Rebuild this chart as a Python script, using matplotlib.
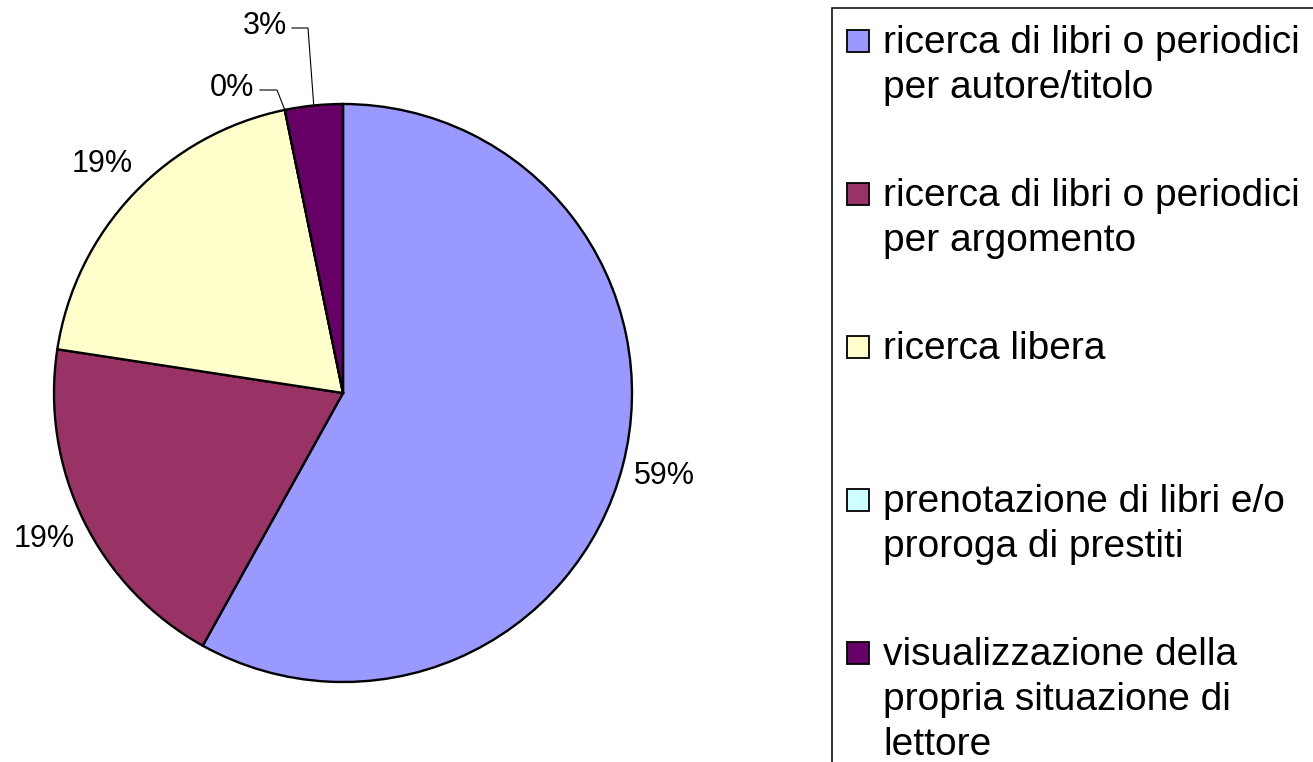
import matplotlib.pyplot as plt
import numpy as np
from matplotlib.patches import Rectangle

plt.rcParams["font.family"] = ["Liberation Sans", "DejaVu Sans"]

categories = [
    "ricerca di libri o periodici\nper autore/titolo",
    "ricerca di libri o periodici\nper argomento",
    "ricerca libera",
    "prenotazione di libri e/o\nproroga di prestiti",
    "visualizzazione della\npropria situazione di\nlettore",
]
values = [18, 6, 6, 0, 1]
pct_labels = ["59%", "19%", "19%", "0%", "3%"]
colors = ["#9999FF", "#993366", "#FFFFCC", "#CCFFFF", "#660066"]

W, H = 1313, 762
fig = plt.figure(figsize=(W / 100, H / 100), dpi=100)
ax = fig.add_axes([0, 0, 1, 1])

cx, cy, R = 343, H - 393, 289
wedges, _ = ax.pie(values, colors=colors, startangle=90, counterclock=False,
                   center=(cx, cy), radius=R, frame=True,
                   wedgeprops=dict(edgecolor="black", linewidth=1.7))
ax.set_xlim(0, W)
ax.set_ylim(0, H)
ax.axis("off")

# percent labels
manual = {3: ((232, 88), (260, 90), (277, 90)),
          4: ((265, 26), (292, 28), (308, 28))}
for i, w in enumerate(wedges):
    mid = np.deg2rad((w.theta1 + w.theta2) / 2)
    if i in manual:
        (tx, ty), (sx, sy), (ex, ey) = manual[i]
        px, py = cx + R * np.cos(mid), cy + R * np.sin(mid)
        ax.plot([sx, ex, px], [H - sy, H - ey, py], color="black", lw=0.8)
        ax.text(tx, H - ty, pct_labels[i], fontsize=22, ha="center", va="center")
    else:
        ax.text(cx + 1.15 * R * np.cos(mid), cy + 1.15 * R * np.sin(mid),
                pct_labels[i], fontsize=22, ha="center", va="center")

# legend box (clipped at figure edge like the original)
ax.add_patch(Rectangle((832, -20), 600, H - 8 + 20, facecolor="white",
                       edgecolor="black", linewidth=1.1))
base0, step, line_h = 53, 153, 45
for i, (lab, col) in enumerate(zip(categories, colors)):
    b = base0 + step * i
    ax.add_patch(Rectangle((847, H - (b - 1)), 22, 22, facecolor=col,
                           edgecolor="black", linewidth=1.3))
    for k, line in enumerate(lab.split("\n")):
        ax.text(883, H - (b + k * line_h), line, fontsize=28,
                ha="left", va="baseline")

fig.savefig("out.png", dpi=100)
